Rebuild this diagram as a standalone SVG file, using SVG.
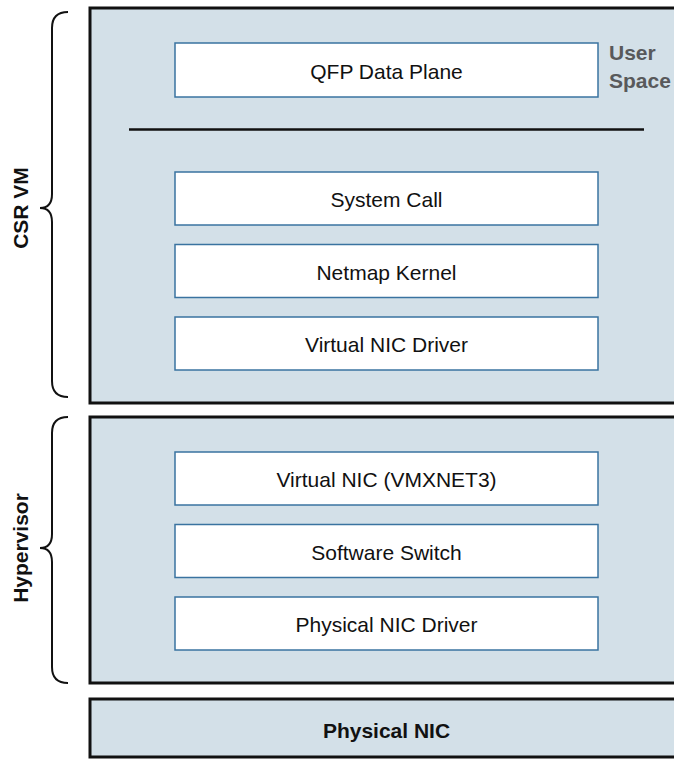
<svg xmlns="http://www.w3.org/2000/svg" width="674" height="759" viewBox="0 0 674 759">
<style>
.panel{fill:#d3e0e8;stroke:#111;stroke-width:3}
.box{fill:#fff;stroke:#3a73a0;stroke-width:1.5}
.t{font-family:"Liberation Sans",Arial,sans-serif;font-size:21px;fill:#111;text-anchor:middle}
.b{font-family:"Liberation Sans",Arial,sans-serif;font-size:21px;font-weight:bold;fill:#111;text-anchor:middle}
.g{font-family:"Liberation Sans",Arial,sans-serif;font-size:21px;font-weight:bold;fill:#58595b}
.brace{fill:none;stroke:#111;stroke-width:2}
</style>
<g id="csr-vm">
<rect class="panel" x="90" y="8" width="600" height="395"/>
<text class="g" x="609" y="60">User</text>
<text class="g" x="609" y="88">Space</text>
<line x1="129" y1="129.5" x2="644" y2="129.5" stroke="#111" stroke-width="2.5"/>
</g>
<g id="qfp"><rect class="box" x="175" y="43" width="423" height="54"/><text class="t" x="386.5" y="78.5">QFP Data Plane</text></g>
<g id="syscall"><rect class="box" x="175" y="172" width="423" height="53"/><text class="t" x="386.5" y="207">System Call</text></g>
<g id="netmap"><rect class="box" x="175" y="244.5" width="423" height="53"/><text class="t" x="386.5" y="279.5">Netmap Kernel</text></g>
<g id="vnicdrv"><rect class="box" x="175" y="317" width="423" height="53"/><text class="t" x="386.5" y="352">Virtual NIC Driver</text></g>
<g id="hypervisor"><rect class="panel" x="90" y="417" width="600" height="266"/></g>
<g id="vnic"><rect class="box" x="175" y="452" width="423" height="53"/><text class="t" x="386.5" y="487">Virtual NIC (VMXNET3)</text></g>
<g id="swswitch"><rect class="box" x="175" y="524.5" width="423" height="53"/><text class="t" x="386.5" y="559.5">Software Switch</text></g>
<g id="pnicdrv"><rect class="box" x="175" y="597" width="423" height="53"/><text class="t" x="386.5" y="632">Physical NIC Driver</text></g>
<g id="pnic"><rect class="panel" x="90" y="699" width="600" height="58"/><text class="b" x="386.5" y="737.5">Physical NIC</text></g>
<g id="labels">
<path class="brace" d="M68 12 Q52 12 52 28 L52 194 Q52 208 40 208 Q52 208 52 222 L52 381 Q52 397 68 397"/>
<text class="b" transform="translate(28 208) rotate(-90)">CSR VM</text>
<path class="brace" d="M68 417 Q52 417 52 433 L52 534 Q52 548 40 548 Q52 548 52 562 L52 667 Q52 683 68 683"/>
<text class="b" transform="translate(28 548) rotate(-90)">Hypervisor</text>
</g>
</svg>
